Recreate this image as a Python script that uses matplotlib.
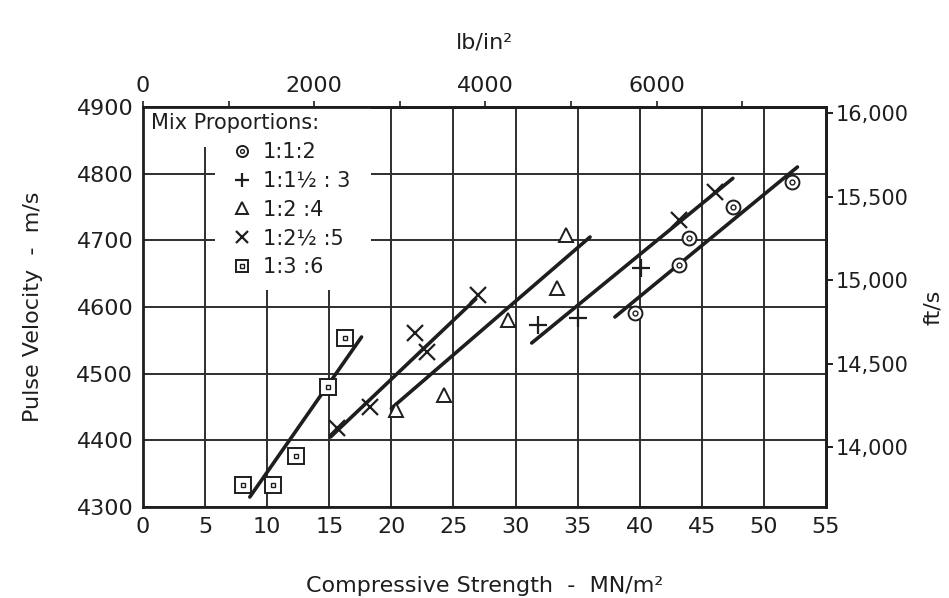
import matplotlib
matplotlib.use("Agg")
import matplotlib.pyplot as plt
from matplotlib.patches import Rectangle
from matplotlib.ticker import FuncFormatter

plt.rcParams['font.family'] = ['DejaVu Sans']

# compressive strength (MN/m^2) vs pulse velocity (m/s)
mix_112_x = [39.6, 43.2, 44.0, 47.5, 52.3]
mix_112_y = [4591, 4663, 4703, 4750, 4787]
mix_1153_x = [31.8, 35.0, 40.1]
mix_1153_y = [4573, 4584, 4658]
mix_124_x = [20.4, 24.2, 29.4, 33.3, 34.1]
mix_124_y = [4445, 4468, 4580, 4628, 4708]
mix_1255_x = [15.6, 18.3, 21.9, 22.9, 27.0, 43.2, 46.1]
mix_1255_y = [4418, 4450, 4561, 4532, 4618, 4730, 4773]
mix_136_x = [8.05, 10.5, 12.3, 14.9, 16.3]
mix_136_y = [4333, 4333, 4376, 4480, 4553]

# hand-drawn fit lines (end points)
fit_136 = ([8.6, 17.6], [4315, 4555])
fit_1255 = ([15.1, 26.8], [4405, 4612])
fit_124 = ([20.0, 36.0], [4448, 4705])
fit_1153 = ([31.3, 47.5], [4546, 4793])
fit_112 = ([38.0, 52.7], [4585, 4810])

labels = ['1:1:2', '1:1\u00bd : 3', '1:2 :4', '1:2\u00bd :5', '1:3 :6']

PSI_PER_MN = 145.04
FT_AT_4300 = 13641
FT_PER_M = 3.992

ink = '#1e1e1e'

fig = plt.figure(figsize=(9.49, 5.98), dpi=100)
ax = fig.add_axes([143/949, 1-507/598, 683/949, 400/598])
ax.set_xlim(0, 55)
ax.set_ylim(4300, 4900)
ax.set_xticks(range(0, 56, 5))
ax.set_yticks(range(4300, 4901, 100))
ax.grid(True, color='#2e2e2e', lw=1.4)
ax.tick_params(length=0, pad=7, labelsize=16, colors=ink)
for s in ax.spines.values():
    s.set_linewidth(2)
    s.set_color(ink)

for fx, fy in [fit_136, fit_1255, fit_124, fit_1153, fit_112]:
    ax.plot(fx, fy, color=ink, lw=2.6, solid_capstyle='round', zorder=3)

mk = dict(color=ink, linestyle='none', zorder=4)
h1a, = ax.plot(mix_112_x, mix_112_y, marker='o', ms=10, mfc='white', mew=1.4, **mk)
h1b, = ax.plot(mix_112_x, mix_112_y, marker='o', ms=3.5, mfc='none', mew=1.0, **mk)
h2, = ax.plot(mix_1153_x, mix_1153_y, marker='+', ms=13, mew=1.6, **mk)
h3, = ax.plot(mix_124_x, mix_124_y, marker='^', ms=10, mfc='white', mew=1.4, **mk)
h4, = ax.plot(mix_1255_x, mix_1255_y, marker='x', ms=11, mew=1.6, **mk)
h5a, = ax.plot(mix_136_x, mix_136_y, marker='s', ms=11, mfc='white', mew=1.4, **mk)
h5b, = ax.plot(mix_136_x, mix_136_y, marker='s', ms=3.5, mfc='none', mew=1.0, **mk)

# blank area behind the key
ax.add_patch(Rectangle((0, 4840), 18.4, 60, facecolor='white', edgecolor='none', zorder=1.8))
ax.add_patch(Rectangle((5.8, 4626), 12.6, 220, facecolor='white', edgecolor='none', zorder=1.8))

ax.text(0.012, 0.985, 'Mix Proportions:', transform=ax.transAxes, va='top', ha='left',
        fontsize=15, color=ink, zorder=5)
leg = ax.legend([(h1a, h1b), h2, h3, h4, (h5a, h5b)], labels, loc='upper left',
                bbox_to_anchor=(0.13, 0.912), frameon=False, fontsize=15,
                handlelength=1.0, handletextpad=0.5, labelspacing=0.42, borderpad=0,
                borderaxespad=0, markerscale=0.8)
for t in leg.get_texts():
    t.set_color(ink)

ax.set_xlabel('Compressive Strength  -  MN/m\u00b2', fontsize=16, color=ink, labelpad=28)
ax.set_ylabel('Pulse Velocity  -  m/s', fontsize=16, color=ink, labelpad=24)

top = ax.secondary_xaxis('top', functions=(lambda x: x * PSI_PER_MN, lambda p: p / PSI_PER_MN))
top.set_xticks([0, 2000, 4000, 6000])
top.set_xticks([1000, 3000, 5000, 7000], minor=True)
top.tick_params(which='both', direction='out', length=4, width=1.2, labelsize=16, colors=ink, pad=4)
top.set_xlabel('lb/in\u00b2', fontsize=16, color=ink, labelpad=20)
top.spines['top'].set_linewidth(2)

right = ax.secondary_yaxis('right', functions=(lambda m: FT_AT_4300 + (m - 4300) * FT_PER_M,
                                               lambda f: 4300 + (f - FT_AT_4300) / FT_PER_M))
right.set_yticks(range(14000, 16001, 500))
right.yaxis.set_major_formatter(FuncFormatter(lambda v, p: f'{int(v):,}'))
right.tick_params(direction='out', length=5, width=1.4, labelsize=15, colors=ink, pad=2)
right.set_ylabel('ft/s', fontsize=16, color=ink, labelpad=10)
right.spines['right'].set_linewidth(2)

fig.savefig('out.png', dpi=100, facecolor='white')
